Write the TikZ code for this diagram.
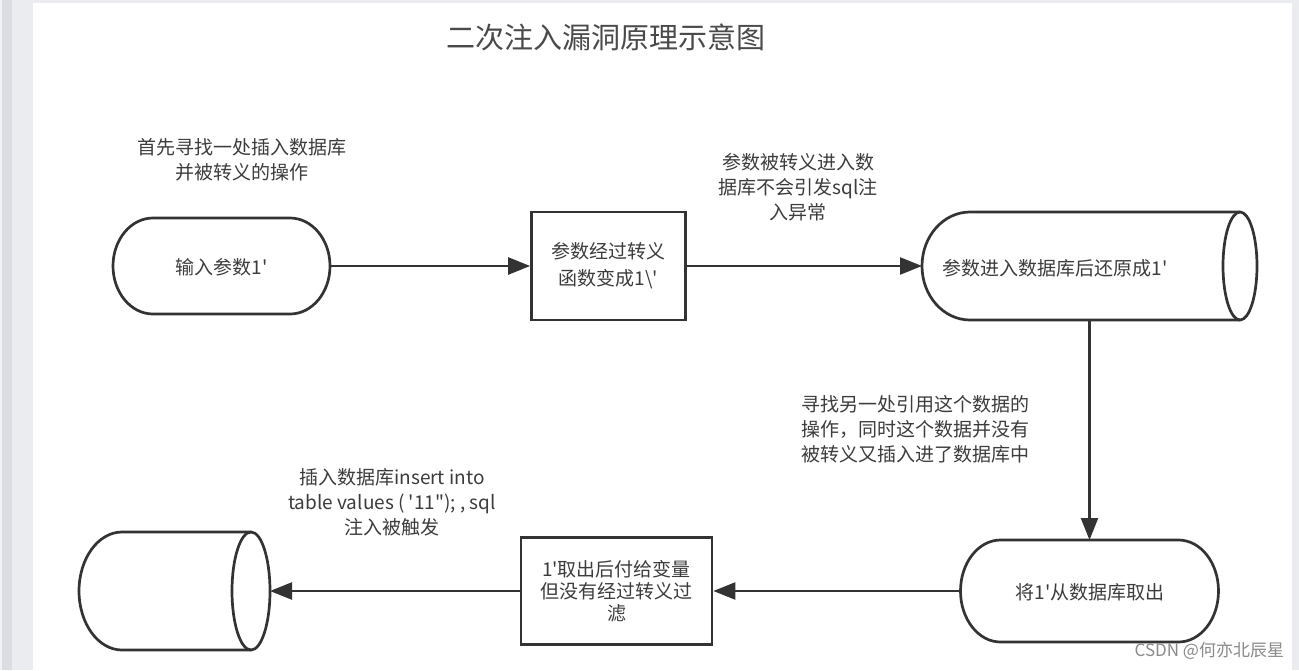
\documentclass[tikz,border=0pt]{standalone}
\usepackage{fontspec}
\newfontfamily\cjk{Noto Sans CJK SC}
\usetikzlibrary{arrows.meta}
\definecolor{frameA}{HTML}{EBECF0}
\definecolor{frameB}{HTML}{DCDDE3}
\definecolor{frameC}{HTML}{F1F2F4}
\definecolor{ln}{HTML}{333333}
\definecolor{txt}{HTML}{3C3C3C}
\definecolor{ttl}{HTML}{4A4A4A}
\definecolor{wm}{HTML}{8A8A8A}
\tikzset{
  txtnode/.style={inner sep=0pt, text=txt, align=center, font=\cjk\fontsize{19pt}{25pt}\selectfont},
  shapeline/.style={draw=ln, line width=2.7pt},
  boxnode/.style={txtnode, shapeline, inner sep=0pt},
  blank/.style={inner sep=0pt, outer sep=0pt},
  conn/.style={draw=ln, line width=2.4pt, -{Triangle[length=22pt,width=17pt]}}
}
\newcommand\termdraw[3]{%
  \draw[shapeline] ([xshift=#2 pt]#1.north west) -- ([xshift=-#2 pt]#1.north east)
    arc[start angle=-90,end angle=90,x radius=#2,y radius=#3]
    -- ([xshift=#2 pt]#1.south west)
    arc[start angle=90,end angle=270,x radius=#2,y radius=#3] -- cycle;}
\newcommand\cyldraw[4]{% name, left rx, right rx, ry
  \draw[shapeline] ([xshift=-#3 pt]#1.north east) -- ([xshift=#2 pt]#1.north west)
    arc[start angle=270,end angle=90,x radius=#2,y radius=#4]
    -- ([xshift=-#3 pt]#1.south east);
  \draw[shapeline] ([xshift=-#3 pt]#1.east) ellipse[x radius=#3,y radius=#4];}
\begin{document}
\begin{tikzpicture}[x=1pt,y=-1pt]
\useasboundingbox (0,0) rectangle (1299,670);
\fill[frameA] (0,0) rectangle (1299,670);
\fill[frameC] (0,0) rectangle (2,670);
\fill[frameB] (2,0) rectangle (12,670);
\fill[white] (33,3) rectangle (1292,670);

% title
\node[blank, text=ttl, font=\cjk\fontsize{29pt}{32pt}\selectfont] (title) at (606,37) {二次注入漏洞原理示意图};

% row 1
\node[blank, minimum width=217pt, minimum height=96pt] (t1) at (221.5,266) {};
\termdraw{t1}{40}{48}
\node[txtnode] (t1text) at (221.5,267) {输入参数1'};

\node[boxnode, minimum width=154pt, minimum height=108pt, font=\cjk\fontsize{19pt}{27pt}\selectfont] (r2) at (608.5,266) {参数经过转义\\函数变成1\textbackslash'};

\node[blank, minimum width=335pt, minimum height=108pt] (c3) at (1089.5,266) {};
\cyldraw{c3}{48}{17}{54}
\node[txtnode] (c3text) at (1055,268) {参数进入数据库后还原成1'};

% row 2
\node[blank, minimum width=258pt, minimum height=102pt] (t5) at (1089.5,591) {};
\termdraw{t5}{40}{51}
\node[txtnode] (t5text) at (1090,592) {将1'从数据库取出};

\node[boxnode, minimum width=191pt, minimum height=107pt, font=\cjk\fontsize{19pt}{22pt}\selectfont] (r7) at (616.5,591) {1'取出后付给变量\\但没有经过转义过\\滤};

\node[blank, minimum width=191pt, minimum height=118pt] (c9) at (174.5,591) {};
\cyldraw{c9}{43}{19}{59}

% connectors
\draw[conn] (t1.east) -- (r2.west);
\draw[conn] (r2.east) -- (c3.west);
\draw[conn] (c3.south) -- (t5.north);
\draw[conn] (t5.west) -- (r7.east);
\draw[conn] (r7.west) -- (c9.east);

% labels
\node[txtnode] (l1) at (241.5,159.5) {首先寻找一处插入数据库\\并被转义的操作};
\node[txtnode] (l2) at (798,187) {参数被转义进入数\\据库不会引发sql注\\入异常};
\node[txtnode, align=left] (l3) at (915,429) {寻找另一处引用这个数据的\\操作，同时这个数据并没有\\被转义又插入进了数据库中};
\node[txtnode] (l4) at (392,502.5) {插入数据库insert into\\table values ( '11"); , sql\\注入被触发};

% watermark
\node[blank, text=wm, font=\cjk\fontsize{17pt}{20pt}\selectfont, anchor=east] (wmk) at (1284,651) {CSDN @何亦北辰星};
\end{tikzpicture}
\end{document}
